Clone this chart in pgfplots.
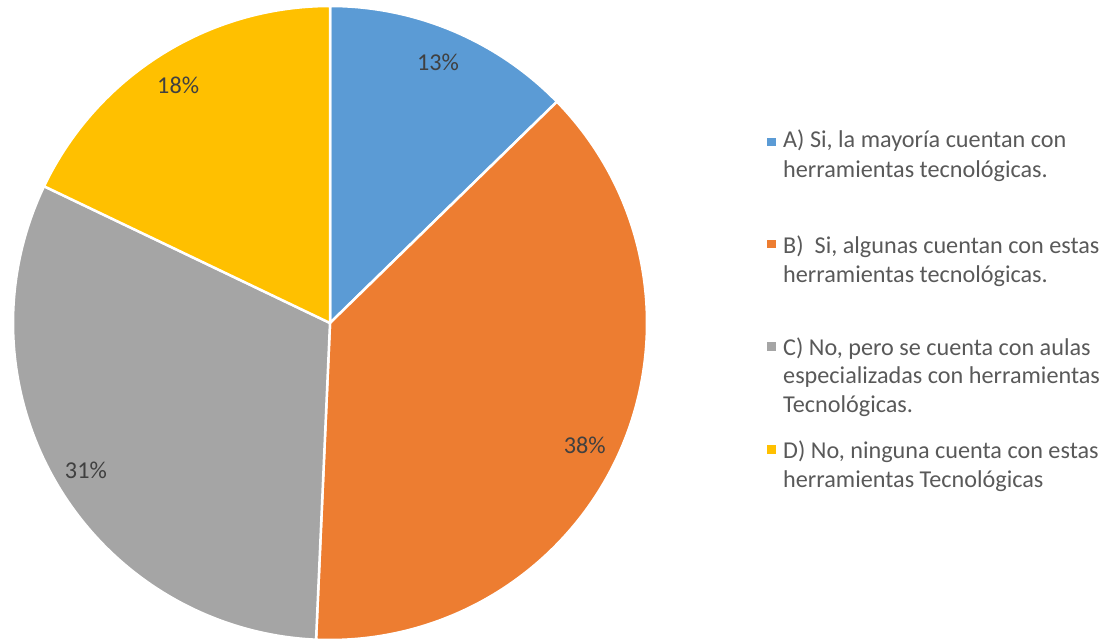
\documentclass[border=0pt]{standalone}
\usepackage{pgfplots}
\pgfplotsset{compat=1.18}
\usepackage{pgfplotstable}
\usepackage{fontspec}
\setmainfont{Carlito}
\definecolor{cA}{HTML}{5B9BD5}
\definecolor{cB}{HTML}{ED7D31}
\definecolor{cC}{HTML}{A5A5A5}
\definecolor{cD}{HTML}{FFC000}
\definecolor{labtext}{HTML}{404040}
\definecolor{legtext}{HTML}{595959}
\pgfplotstableread{
slice value
A 12.7
B 38.0
C 31.4
D 17.9
}\piedata
\pgfplotstablegetelem{0}{value}\of\piedata \let\vA\pgfplotsretval
\pgfplotstablegetelem{1}{value}\of\piedata \let\vB\pgfplotsretval
\pgfplotstablegetelem{2}{value}\of\piedata \let\vC\pgfplotsretval
\pgfplotstablegetelem{3}{value}\of\piedata \let\vD\pgfplotsretval
\pgfmathsetmacro\aA{90}
\pgfmathsetmacro\aB{\aA-3.6*\vA}
\pgfmathsetmacro\aC{\aB-3.6*\vB}
\pgfmathsetmacro\aD{\aC-3.6*\vC}
\pgfmathsetmacro\aE{\aD-3.6*\vD}
\pgfmathsetmacro\xA{cos(\aA)}\pgfmathsetmacro\yA{sin(\aA)}
\pgfmathsetmacro\xB{cos(\aB)}\pgfmathsetmacro\yB{sin(\aB)}
\pgfmathsetmacro\xC{cos(\aC)}\pgfmathsetmacro\yC{sin(\aC)}
\pgfmathsetmacro\xD{cos(\aD)}\pgfmathsetmacro\yD{sin(\aD)}
\newcommand\legfont{\fontsize{24.2}{30}\selectfont}
\newcommand\labfont{\fontsize{24.2}{29}\selectfont}
\begin{document}
\begin{tikzpicture}
\path[use as bounding box] (0,0) rectangle (1103pt,641pt);
\begin{axis}[at={(330pt,318pt)}, anchor=origin, scale only axis,
  width=634pt, height=634pt, xmin=-1, xmax=1, ymin=-1, ymax=1,
  hide axis, clip=false]
\addplot[draw=none] coordinates {(0,0)};
\filldraw[fill=cA, draw=white, line width=2.5pt, line join=round]
  (axis cs:0,0) -- (axis cs:\xA,\yA) arc[start angle=\aA, end angle=\aB, radius=317pt] -- cycle;
\filldraw[fill=cB, draw=white, line width=2.5pt, line join=round]
  (axis cs:0,0) -- (axis cs:\xB,\yB) arc[start angle=\aB, end angle=\aC, radius=317pt] -- cycle;
\filldraw[fill=cC, draw=white, line width=2.5pt, line join=round]
  (axis cs:0,0) -- (axis cs:\xC,\yC) arc[start angle=\aC, end angle=\aD, radius=317pt] -- cycle;
\filldraw[fill=cD, draw=white, line width=2.5pt, line join=round]
  (axis cs:0,0) -- (axis cs:\xD,\yD) arc[start angle=\aD, end angle=\aE, radius=317pt] -- cycle;
\node[text=labtext, font=\labfont] at (axis cs:0.341,0.823) {13\%};
\node[text=labtext, font=\labfont] at (axis cs:0.804,-0.385) {38\%};
\node[text=labtext, font=\labfont] at (axis cs:-0.770,-0.464) {31\%};
\node[text=labtext, font=\labfont] at (axis cs:-0.479,0.751) {18\%};
\end{axis}
% legend
\begin{scope}[every node/.style={anchor=base west, text=legtext, font=\legfont, inner sep=0pt}]
\fill[cA] (767pt,494.5pt) rectangle (775.5pt,503pt);
\node at (783pt,493pt) {A) Si, la mayoría cuentan con};
\node at (783pt,463pt) {herramientas tecnológicas.};
\fill[cB] (767pt,392.5pt) rectangle (775.5pt,401pt);
\node at (783pt,388pt) {B)\ \ Si, algunas cuentan con estas};
\node at (783pt,359pt) {herramientas tecnológicas.};
\fill[cC] (767pt,290.5pt) rectangle (775.5pt,299pt);
\node at (783pt,286pt) {C) No, pero se cuenta con aulas};
\node at (783pt,258pt) {especializadas con herramientas};
\node at (783pt,229pt) {Tecnológicas.};
\fill[cD] (767pt,187.5pt) rectangle (775.5pt,196pt);
\node at (783pt,183pt) {D) No, ninguna cuenta con estas};
\node at (783pt,154pt) {herramientas Tecnológicas};
\end{scope}
\end{tikzpicture}
\end{document}
